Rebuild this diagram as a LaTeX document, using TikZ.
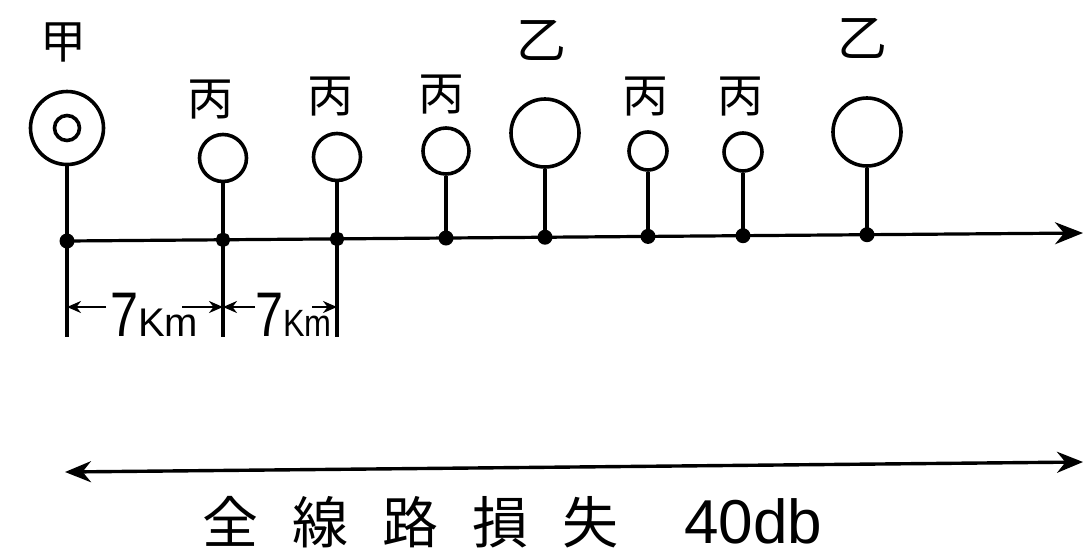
\documentclass[tikz,border=0pt]{standalone}
\usepackage{fontspec}
\setmainfont{Liberation Sans}
\newfontfamily\cjk{Noto Sans CJK JP}
\usetikzlibrary{arrows.meta}
\begin{document}
\begin{tikzpicture}[x=1pt,y=-1pt,
  wire/.style={line width=3.2pt},
  sta/.style={circle,draw,line width=3.6pt,inner sep=0pt},
  jdot/.style={circle,fill,inner sep=0pt,minimum size=15pt},
  jring/.style={circle,draw,line width=4.5pt,inner sep=0pt,minimum size=10pt},
  lbl/.style={inner sep=0pt,font=\cjk\fontsize{46}{46}\selectfont},
  biglbl/.style={inner sep=0pt,font=\cjk\fontsize{50}{50}\selectfont},
  mainarrow/.style={line width=3.2pt,-{Stealth[length=28pt,width=22pt]}},
  dimarrow/.style={line width=2.6pt,-{Stealth[length=14pt,width=12pt]}},
  totarrow/.style={line width=3.4pt,{Stealth[length=26pt,width=21pt]}-{Stealth[length=26pt,width=21pt]}},
  dimtxt/.style={anchor=base west,inner sep=0pt}]
\useasboundingbox (0,0) rectangle (1084,555);

% stations
\node[sta,minimum size=73pt] (A) at (67,128) {};
\node[sta,minimum size=25pt] (Ain) at (67,128) {};
\node[lbl] (tA) at (63,42) {甲};

\node[sta,minimum size=47pt] (H1) at (223,158) {};
\node[lbl] (tH1) at (210,100) {丙};
\node[sta,minimum size=47pt] (H2) at (337,157) {};
\node[lbl] (tH2) at (330,97) {丙};
\node[sta,minimum size=46pt] (H3) at (446,151) {};
\node[lbl] (tH3) at (441,95) {丙};
\node[sta,minimum size=68pt] (B1) at (545,133) {};
\node[biglbl] (tB1) at (541,40) {乙};
\node[sta,minimum size=38pt] (H4) at (648,151) {};
\node[lbl] (tH4) at (645,97) {丙};
\node[sta,minimum size=38pt] (H5) at (743,152) {};
\node[lbl] (tH5) at (740,97) {丙};
\node[sta,minimum size=68pt] (B2) at (867,132) {};
\node[biglbl] (tB2) at (862,38) {乙};

% junctions on the line
\node[jdot] (j0) at (67,241) {};
\node[jring] (j1) at (223,239.8) {};
\node[jring] (j2) at (337,238.9) {};
\node[jdot] (j3) at (446,238.0) {};
\node[jdot] (j4) at (545,237.2) {};
\node[jdot] (j5) at (648,236.4) {};
\node[jdot] (j6) at (743,235.7) {};
\node[jdot] (j7) at (867,234.7) {};
\coordinate (lineend) at (1083,233);

\draw[mainarrow] (j0.center) -- (lineend);

% stems
\draw[wire] (A.south) -- (j0.center);
\draw[wire] (H1.south) -- (j1.center);
\draw[wire] (H2.south) -- (j2.center);
\draw[wire] (H3.south) -- (j3.center);
\draw[wire] (B1.south) -- (j4.center);
\draw[wire] (H4.south) -- (j5.center);
\draw[wire] (H5.south) -- (j6.center);
\draw[wire] (B2.south) -- (j7.center);

% dimension lines
\coordinate (v0) at (67,337);
\coordinate (v1) at (223,337);
\coordinate (v2) at (337,337);
\draw[wire] (j0.center) -- (v0);
\draw[wire] (j1.center) -- (v1);
\draw[wire] (j2.center) -- (v2);

\coordinate (p0) at (67,307);
\coordinate (p1) at (223,307);
\coordinate (p2) at (337,307);
\coordinate (s1) at (106,307);
\coordinate (s2) at (182,307);
\coordinate (s3) at (255,307);
\coordinate (s4) at (312,307);
\draw[dimarrow] (s1) -- (p0);
\draw[dimarrow] (s2) -- (p1);
\draw[dimarrow] (s3) -- (p1);
\draw[dimarrow] (s4) -- (p2);

\node[dimtxt] (k1) at (110,336) {\scalebox{0.8}[1]{\fontsize{63}{63}\selectfont 7}\fontsize{40}{40}\selectfont Km};
\node[dimtxt] (k2) at (255,336) {\scalebox{0.8}[1]{\fontsize{63}{63}\selectfont 7}\scalebox{0.85}[1]{\fontsize{38}{38}\selectfont Km}};

% total loss
\coordinate (tL) at (65,472);
\coordinate (tR) at (1083,462);
\draw[totarrow] (tL) -- (tR);
\node[anchor=base west,inner sep=0pt,text depth=0pt] (tot) at (202,543)
  {{\cjk\fontsize{56}{56}\selectfont 全\hspace{34pt}線\hspace{34pt}路\hspace{34pt}損\hspace{34pt}失}\hspace{66pt}{\fontsize{62}{62}\selectfont 40db}};
\end{tikzpicture}
\end{document}
